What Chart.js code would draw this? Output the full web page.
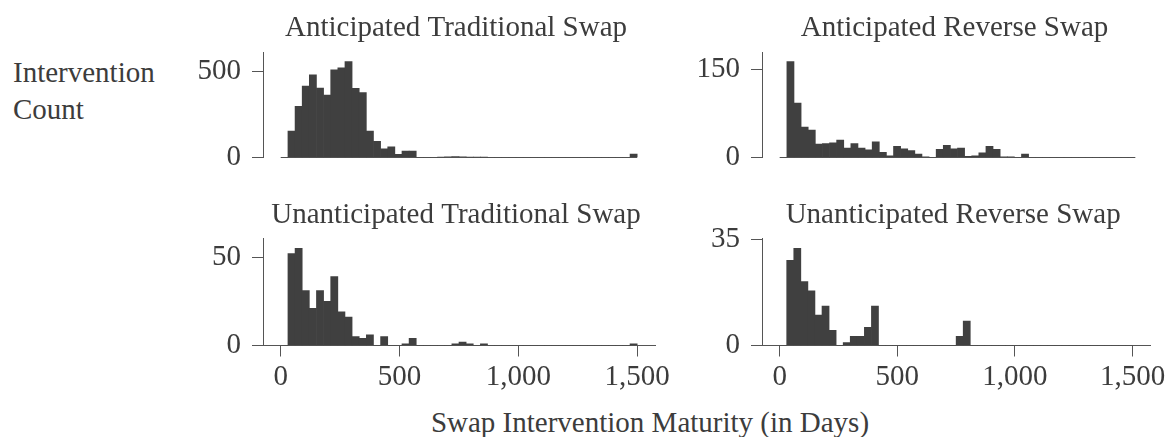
<!DOCTYPE html>
<html>
<head>
<meta charset="utf-8">
<script src="https://cdn.jsdelivr.net/npm/chart.js@4.4.0/dist/chart.umd.min.js"></script>
<style>
    html, body { margin: 0; padding: 0; background: #fff; }
    body { width: 1169px; height: 437px; position: relative; overflow: hidden;
           font-family: 'Liberation Serif', serif; color: #3c3c3c; }
    canvas { position: absolute; }
    #yLabel { position: absolute; left: 13px; top: 54px; font-size: 29px; line-height: 36.6px; }
    #xLabel { position: absolute; left: 350px; width: 600px; top: 405px; text-align: center;
              font-size: 29px; line-height: 34px; white-space: nowrap; }
</style>
</head>
<body>
<div id="yLabel">Intervention<br>Count</div>
<div id="xLabel">Swap Intervention Maturity (in Days)</div>
<canvas id="chartTL" width="530" height="200" style="left:150px;top:0px"></canvas>
<canvas id="chartTR" width="519" height="200" style="left:650px;top:0px"></canvas>
<canvas id="chartBL" width="530" height="247" style="left:150px;top:190px"></canvas>
<canvas id="chartBR" width="519" height="247" style="left:650px;top:190px"></canvas>
<script>
// bin centres (days), 30-day bins from 0 to 1500
const binCenters = [15, 45, 75, 105, 135, 165, 195, 225, 255, 285,
    315, 345, 375, 405, 435, 465, 495, 525, 555, 585,
    615, 645, 675, 705, 735, 765, 795, 825, 855, 885,
    915, 945, 975, 1005, 1035, 1065, 1095, 1125, 1155, 1185,
    1215, 1245, 1275, 1305, 1335, 1365, 1395, 1425, 1455, 1485];
const binRange = [0, 1500];

const anticipatedTraditional = [0, 154, 298, 415, 481, 404, 363, 510, 521, 558,
    402, 377, 154, 94, 50, 62, 19, 38, 38, 0,
    0, 0, 1, 4, 5, 4, 1, 1, 1, 0,
    0, 0, 0, 0, 0, 0, 0, 0, 0, 0,
    0, 0, 0, 0, 0, 0, 0, 0, 0, 20];
const anticipatedReverse = [0, 164, 93, 52, 47, 23, 24, 25, 30, 16,
    24, 16, 13, 27, 9, 3, 19, 15, 12, 6,
    1, 0, 14, 21, 15, 16, 2, 3, 8, 19,
    14, 1, 1, 0, 6, 0, 0, 0, 0, 0,
    0, 0, 0, 0, 0, 0, 0, 0, 0, 0];
const unanticipatedTraditional = [0, 52, 55, 31, 21, 31, 25, 39, 19, 16,
    5, 4, 6, 0, 5, 0, 0, 1, 4, 0,
    0, 0, 0, 0, 1, 2, 1, 0, 1, 0,
    0, 0, 0, 0, 0, 0, 0, 0, 0, 0,
    0, 0, 0, 0, 0, 0, 0, 0, 0, 1];
const unanticipatedReverse = [0, 28, 32, 21, 18, 10, 13, 5, 0, 1,
    3, 3, 6, 13, 0, 0, 0, 0, 0, 0,
    0, 0, 0, 0, 0, 3, 8, 0, 0, 0,
    0, 0, 0, 0, 0, 0, 0, 0, 0, 0,
    0, 0, 0, 0, 0, 0, 0, 0, 0, 0];

const panelTitles = ['Anticipated Traditional Swap', 'Anticipated Reverse Swap',
    'Unanticipated Traditional Swap', 'Unanticipated Reverse Swap'];
const yTickValues = [500, 150, 50, 35];
const xTickValues = [0, 500, 1000, 1500];
const xLimits = [-75, 1575];

const barColor = '#404040';
const axisColor = '#555555';
const textColor = '#3c3c3c';
const fontFamily = "'Liberation Serif', serif";
const fontSize = 29;

// title drawn above each plot area
const panelTitle = {
    id: 'panelTitle',
    afterDraw(chart, args, opts) {
        const { ctx, chartArea } = chart;
        ctx.save();
        ctx.font = fontSize + 'px ' + fontFamily;
        ctx.fillStyle = textColor;
        ctx.textAlign = 'center';
        ctx.textBaseline = 'alphabetic';
        ctx.fillText(opts.text, (chartArea.left + chartArea.right) / 2 - 3, chartArea.top - 16);
        ctx.restore();
    }
};

function makePanel(canvasId, counts, title, yTick, showX, yWidth, padding) {
    const ctx = document.getElementById(canvasId).getContext('2d');
    const yMax = Math.max(...counts) * 1.1;
    return new Chart(ctx, {
        type: 'bar',
        data: {
            datasets: [
                {
                    type: 'bar',
                    data: binCenters.map((c, i) => ({ x: c, y: counts[i] })),
                    backgroundColor: barColor,
                    borderWidth: 0,
                    barPercentage: 1,
                    categoryPercentage: 1
                },
                {
                    type: 'line',
                    data: binRange.map(v => ({ x: v, y: 0 })),
                    borderColor: axisColor,
                    borderWidth: 1,
                    pointRadius: 0,
                    clip: false
                }
            ]
        },
        options: {
            responsive: false,
            animation: false,
            events: [],
            layout: { padding: padding },
            plugins: {
                legend: { display: false },
                tooltip: { enabled: false },
                panelTitle: { text: title }
            },
            scales: {
                x: {
                    type: 'linear',
                    min: xLimits[0],
                    max: xLimits[1],
                    offset: false,
                    display: showX,
                    afterBuildTicks: s => { s.ticks = xTickValues.map(v => ({ value: v })); },
                    afterFit: s => { s.height = showX ? 60 : 0; },
                    grid: { drawOnChartArea: false, offset: false, tickLength: 11, color: axisColor, lineWidth: 1 },
                    border: { display: true, color: axisColor, width: 1 },
                    ticks: {
                        padding: 3, maxRotation: 0, autoSkip: false, color: textColor,
                        font: { family: fontFamily, size: fontSize },
                        callback: v => v.toLocaleString('en-US')
                    }
                },
                y: {
                    min: 0,
                    max: yMax,
                    afterBuildTicks: s => { s.ticks = [0, yTick].map(v => ({ value: v })); },
                    afterFit: s => { s.width = yWidth; },
                    grid: { drawOnChartArea: false, tickLength: 11, color: axisColor, lineWidth: 1 },
                    border: { display: true, color: axisColor, width: 1 },
                    ticks: {
                        padding: 11, color: textColor,
                        font: { family: fontFamily, size: fontSize },
                        callback: v => v.toLocaleString('en-US')
                    }
                }
            }
        },
        plugins: [panelTitle]
    });
}

makePanel('chartTL', anticipatedTraditional, panelTitles[0], yTickValues[0], false, 113,
    { left: 0, right: 25, top: 52, bottom: 42.5 });
makePanel('chartTR', anticipatedReverse, panelTitles[1], yTickValues[1], false, 112,
    { left: 0, right: 16, top: 52, bottom: 42.5 });
makePanel('chartBL', unanticipatedTraditional, panelTitles[2], yTickValues[2], true, 113,
    { left: 0, right: 25, top: 48.5, bottom: 31.5 });
makePanel('chartBR', unanticipatedReverse, panelTitles[3], yTickValues[3], true, 112,
    { left: 0, right: 16, top: 48.5, bottom: 31.5 });
</script>
</body>
</html>
